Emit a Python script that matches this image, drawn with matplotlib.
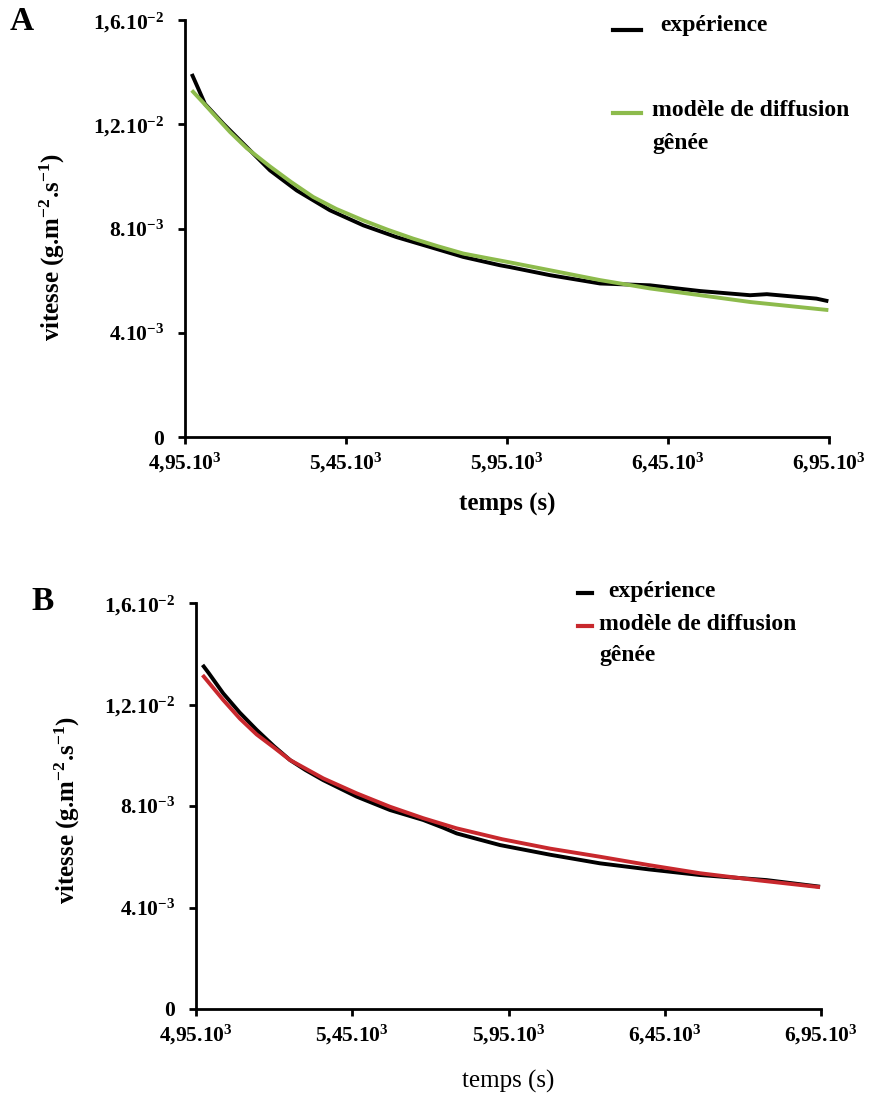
import matplotlib
matplotlib.use("Agg")
import matplotlib.pyplot as plt
from matplotlib.lines import Line2D

plt.rcParams['font.family'] = ['Liberation Serif', 'DejaVu Serif']
plt.rcParams['font.weight'] = 'bold'
plt.rcParams['axes.labelweight'] = 'bold'
plt.rcParams['mathtext.fontset'] = 'custom'
plt.rcParams['mathtext.rm'] = 'Liberation Serif:bold'
plt.rcParams['mathtext.it'] = 'Liberation Serif:italic:bold'
plt.rcParams['mathtext.bf'] = 'Liberation Serif:bold'

# temps (s) et vitesse (x1e-3 g.m-2.s-1)
a_t_exp = [4971, 4990, 5012, 5069, 5142, 5214, 5297, 5400, 5504, 5607, 5711, 5814,
           5928, 5959, 6083, 6239, 6394, 6550, 6705, 6757, 6911, 6948]
a_v_exp = [13.93, 13.40, 12.78, 12.02, 11.12, 10.23, 9.46, 8.70, 8.12, 7.67, 7.29, 6.91,
           6.59, 6.52, 6.21, 5.89, 5.82, 5.60, 5.44, 5.48, 5.31, 5.21]
a_t_mod = [4971, 5005, 5038, 5090, 5142, 5214, 5280, 5348, 5420, 5504, 5580, 5659,
           5735, 5814, 5890, 5959, 6083, 6239, 6394, 6550, 6705, 6948]
a_v_mod = [13.30, 12.85, 12.40, 11.70, 11.08, 10.38, 9.78, 9.21, 8.75, 8.31, 7.95, 7.61,
           7.32, 7.04, 6.86, 6.70, 6.40, 6.02, 5.70, 5.44, 5.18, 4.87]

b_t_exp = [4971, 4990, 5037, 5090, 5144, 5200, 5251, 5300, 5357, 5464, 5571, 5677,
           5740, 5784, 5850, 5923, 6083, 6243, 6400, 6563, 6776, 6947]
b_v_exp = [13.56, 13.25, 12.44, 11.68, 11.00, 10.35, 9.81, 9.42, 9.02, 8.37, 7.84, 7.45,
           7.15, 6.92, 6.70, 6.46, 6.08, 5.74, 5.50, 5.28, 5.08, 4.82]
b_t_mod = [4971, 5037, 5090, 5144, 5200, 5251, 5357, 5464, 5571, 5677, 5784, 5930,
           6083, 6243, 6400, 6563, 6750, 6947]
b_v_mod = [13.16, 12.18, 11.45, 10.82, 10.30, 9.81, 9.09, 8.50, 7.97, 7.52, 7.12, 6.69,
           6.32, 6.00, 5.67, 5.35, 5.07, 4.80]

x_ticks = [4950, 5450, 5950, 6450, 6950]
x_labels = ['4,95.10$^{3}$', '5,45.10$^{3}$', '5,95.10$^{3}$',
            '6,45.10$^{3}$', '6,95.10$^{3}$']
y_ticks = [0, 0.004, 0.008, 0.012, 0.016]
y_labels = ['0', '4.10$^{-3}$', '8.10$^{-3}$', '1,2.10$^{-2}$', '1,6.10$^{-2}$']

vert = '#8dbb4c'
rouge = '#c8282d'

W, H = 869, 1108
fig = plt.figure(figsize=(W / 100, H / 100), dpi=100)


def box(x0, y0, x1, y1):
    # pixels (haut-gauche) -> coordonnées figure
    return [x0 / W, 1 - y1 / H, (x1 - x0) / W, (y1 - y0) / H]


def fp(x, y):
    return x / W, 1 - y / H


def panneau(ax, t_exp, v_exp, t_mod, v_mod, couleur, bold_x=True):
    ax.plot(t_exp, [v / 1000 for v in v_exp], color='black', lw=2.8,
            solid_capstyle='butt', solid_joinstyle='round', zorder=3)
    ax.plot(t_mod, [v / 1000 for v in v_mod], color=couleur, lw=2.8,
            solid_capstyle='butt', solid_joinstyle='round', zorder=4)
    ax.set_xlim(4950, 6950)
    ax.set_ylim(0, 0.016)
    ax.set_xticks(x_ticks)
    ax.set_xticklabels(x_labels)
    ax.set_yticks(y_ticks)
    ax.set_yticklabels(y_labels)
    ax.spines['top'].set_visible(False)
    ax.spines['right'].set_visible(False)
    for s in ('left', 'bottom'):
        ax.spines[s].set_linewidth(2)
    ax.tick_params(direction='out', length=5, width=2, labelsize=15.5)
    ax.tick_params(axis='x', pad=5)
    ax.tick_params(axis='y', pad=10)
    ax.set_xlabel('temps (s)', fontsize=18,
                  fontweight='bold' if bold_x else 'normal')
    ax.set_ylabel('vitesse (g.m$^{-2}$.s$^{-1}$)', fontsize=18, fontweight='bold')


axA = fig.add_axes(box(185, 20, 829, 437))
panneau(axA, a_t_exp, a_v_exp, a_t_mod, a_v_mod, vert)
axA.xaxis.set_label_coords(0.5, -0.134)
axA.yaxis.set_label_coords(-0.183, 0.455)

axB = fig.add_axes(box(196, 603, 821, 1009))
panneau(axB, b_t_exp, b_v_exp, b_t_mod, b_v_mod, rouge, bold_x=False)
axB.xaxis.set_label_coords(0.5, -0.15)
axB.yaxis.set_label_coords(-0.182, 0.49)

# lettres des panneaux
fig.text(*fp(22, 22), 'A', fontsize=24, ha='center', va='center')
fig.text(*fp(43, 602), 'B', fontsize=24, ha='center', va='center')


# légendes
def entree(x0, x1, y, couleur, tx, ty, texte):
    fig.add_artist(Line2D([x0 / W, x1 / W], [1 - y / H, 1 - y / H],
                          color=couleur, lw=3, transform=fig.transFigure))
    fig.text(*fp(tx, ty), texte, fontsize=17, ha='left', va='center')


entree(613, 641, 30, 'black', 660, 25, 'expérience')
entree(613, 641, 113, vert, 652, 110, 'modèle de diffusion')
fig.text(*fp(652, 143), 'gênée', fontsize=17, ha='left', va='center')

entree(578, 592, 593, 'black', 608, 591, 'expérience')
entree(578, 592, 626, rouge, 599, 624, 'modèle de diffusion')
fig.text(*fp(599, 655), 'gênée', fontsize=17, ha='left', va='center')

fig.savefig('out.png', dpi=100)
